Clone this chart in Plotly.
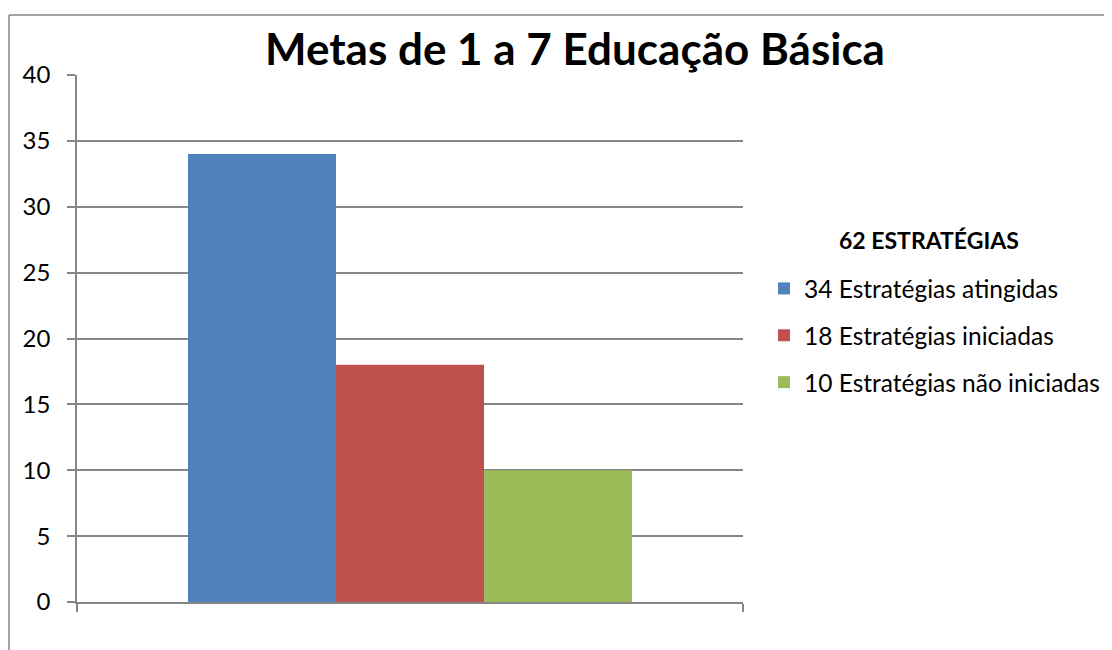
import plotly.graph_objects as go

# Data
categories = ["Metas 1 a 7"]
series_names = ["34 Estratégias atingidas", "18 Estratégias iniciadas", "10 Estratégias não iniciadas"]
series_values = [34, 18, 10]
series_colors = ["#4F81BD", "#C0504D", "#9BBB59"]
y_ticks = [0, 5, 10, 15, 20, 25, 30, 35, 40]
legend_title = "62 ESTRATÉGIAS"
chart_title = "Metas de 1 a 7 Educação Básica"

OFF = 8  # default page body margin
W, H = 1112 - OFF, 650 - OFF
# plot area in page pixels: x 77..743, y 75..602
L, T = 77 - OFF, 75 - OFF
R, B = W - (743 - OFF), H - (602 - OFF)
GRID = "#868686"
FONT = "Lato, 'Open Sans', sans-serif"


# convert page pixel positions to paper coords
def px_x(px):
    return (px - OFF - L) / (W - L - R)


def px_y(py):
    return (H - B - (py - OFF)) / (H - T - B)


fig = go.Figure()
for i, (name, val, col) in enumerate(zip(series_names, series_values, series_colors)):
    fig.add_trace(go.Bar(x=categories, y=[val], name=name, marker=dict(color=col, line=dict(width=0)),
                         legendgroup=f"g{i}"))

fig.update_layout(
    width=W, height=H,
    margin=dict(l=L, r=R, t=T, b=B, autoexpand=False),
    paper_bgcolor="white", plot_bgcolor="white",
    barmode="group", bargap=1/3, bargroupgap=0,
    font=dict(family=FONT, color="black"),
    title=dict(text=f"<b>{chart_title}</b>", x=(575 - OFF) / W, xanchor="center",
               y=1 - (50 - OFF) / H, yanchor="middle", font=dict(size=44, color="black")),
    legend=dict(x=px_x(764), xanchor="left", y=px_y(266), yanchor="top",
                font=dict(size=24.5), tracegroupgap=12, bgcolor="rgba(0,0,0,0)"),
    showlegend=True,
)

fig.update_xaxes(showticklabels=False, showgrid=False, showline=True, linecolor=GRID, linewidth=1.5,
                 ticks="outside", tickson="boundaries", ticklen=8, tickcolor=GRID, tickwidth=1.5,
                 range=[-0.5, 0.5], zeroline=False)
fig.update_yaxes(range=[0, 40], tickvals=y_ticks, showgrid=True, gridcolor=GRID, gridwidth=1.5,
                 showline=True, linecolor=GRID, linewidth=1.5, ticks="outside", ticklen=8,
                 tickcolor=GRID, tickwidth=1.5, tickfont=dict(size=24), ticklabelstandoff=12,
                 zeroline=False)

# legend title
fig.add_annotation(text=f"<b>{legend_title}</b>", x=px_x(929), y=px_y(240), xref="paper", yref="paper",
                   showarrow=False, font=dict(size=23, color="black"), xanchor="center", yanchor="middle")

# chart border (top and left visible)
fig.add_shape(type="line", xref="paper", yref="paper", x0=px_x(9), x1=px_x(1120), y0=px_y(15), y1=px_y(15),
              line=dict(color=GRID, width=1.5))
fig.add_shape(type="line", xref="paper", yref="paper", x0=px_x(9), x1=px_x(9), y0=px_y(15), y1=px_y(660),
              line=dict(color=GRID, width=1.5))

fig.write_html("out.html")
